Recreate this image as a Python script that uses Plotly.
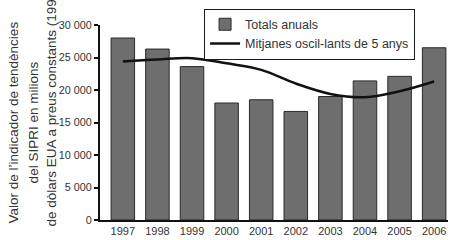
import plotly.graph_objects as go

years = ["1997", "1998", "1999", "2000", "2001", "2002", "2003", "2004", "2005", "2006"]
totals = [28000, 26300, 23600, 18000, 18500, 16700, 19000, 21400, 22100, 26500]
moving_avg = [24400, 24700, 24900, 24100, 23100, 21000, 19400, 18900, 19800, 21300]
y_ticks = [0, 5000, 10000, 15000, 20000, 25000, 30000]
y_tick_labels = ["0", "5 000", "10 000", "15 000", "20 000", "25 000", "30 000"]
title_lines = ["Valor de l\u2019indicador de tendències",
               "del SIPRI en milions",
               "de dòlars EUA a preus constants (1990)"]
legend_names = ["Totals anuals", "Mitjanes oscil-lants de 5 anys"]

font = "Liberation Sans, Arial, sans-serif"
txt = "#333333"
bar_fill = "#6e6e6e"
bar_edge = "#2a2a2a"

fig = go.Figure()
fig.add_trace(go.Bar(x=years, y=totals, name=legend_names[0],
                     marker=dict(color=bar_fill, line=dict(color=bar_edge, width=1)),
                     width=0.68))
fig.add_trace(go.Scatter(x=years, y=moving_avg, name=legend_names[1],
                         mode="lines", line=dict(color="#111111", width=2.5, shape="spline")))

fig.update_layout(
    width=451, height=240,
    margin=dict(l=100, r=3, t=25, b=14),
    paper_bgcolor="white", plot_bgcolor="white",
    font=dict(family=font, size=11, color=txt),
    showlegend=True,
    legend=dict(x=0.299, y=1.084, xanchor="left", yanchor="top",
                bgcolor="white", bordercolor="#1a1a1a", borderwidth=1,
                font=dict(size=12.5, color=txt, family=font), itemwidth=30,
                tracegroupgap=0, traceorder="normal"),
)
fig.update_xaxes(type="category", range=[-0.66, 9.4], showline=True, linecolor="#111111",
                 linewidth=2, ticks="", showgrid=False, tickfont=dict(size=11))
fig.update_yaxes(range=[0, 30000], tickvals=y_ticks, ticktext=y_tick_labels,
                 showline=True, linecolor="#111111", linewidth=2, ticks="outside",
                 ticklen=4, tickwidth=1.5, tickcolor="#111111", showgrid=False, zeroline=False,
                 tickfont=dict(size=10.8))

# axis title (three rotated lines)
xs = [-0.25, -0.19, -0.14]
for i, (line, xp) in enumerate(zip(title_lines, xs)):
    fig.add_annotation(text=line, xref="paper", yref="paper", x=xp,
                       y=0.5 if i < 2 else -0.045,
                       yanchor="middle" if i < 2 else "bottom",
                       xanchor="center", textangle=-90, showarrow=False,
                       font=dict(size=13.5, color=txt, family=font))

fig.write_html("out.html", config={"displayModeBar": False},
               post_script="document.body.style.margin='0';document.body.style.padding='0';")
